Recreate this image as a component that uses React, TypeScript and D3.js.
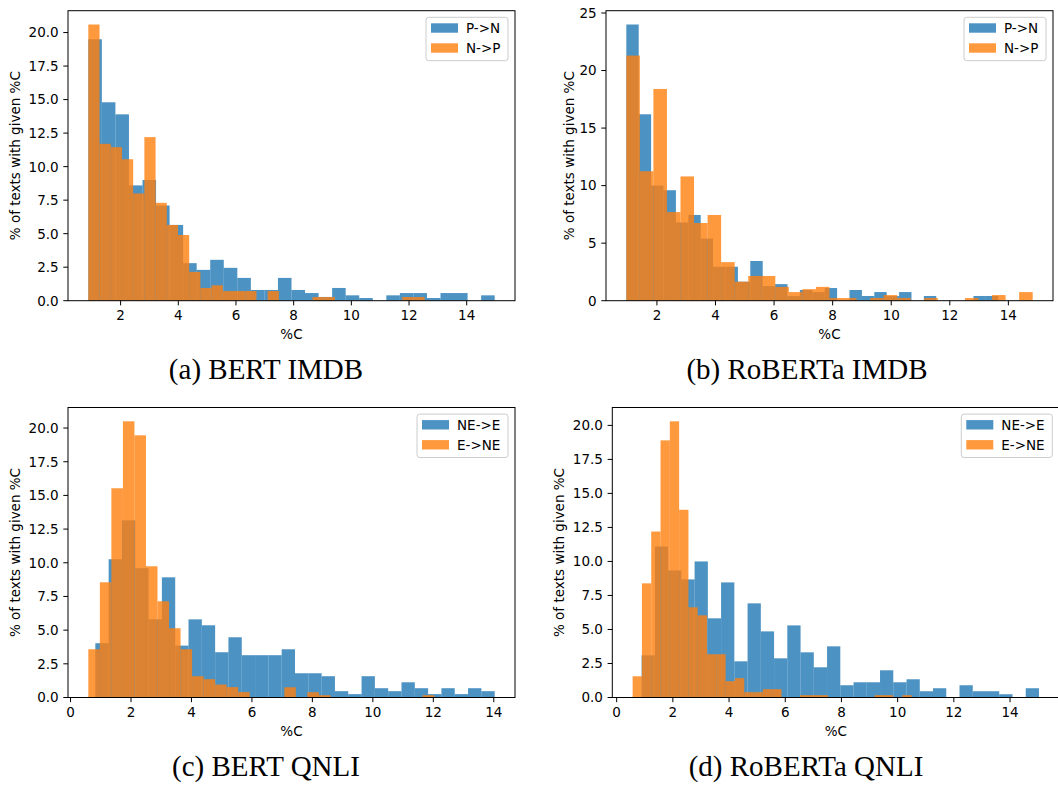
import React from "react";
import * as d3 from "d3";

// ---------- data ----------
// each histogram: 30 equal bins between [min, max] of %C, heights = % of texts
const BINS = 30;

// (a) BERT IMDB
const bertImdbPNRange = [0.88, 14.97];
const bertImdbPN = [19.5, 14.8, 13.9, 8.6, 9.0, 7.1, 5.65, 2.8, 2.3, 3.05, 2.45, 1.7, 0.8, 0.8, 1.7, 0.8, 0.57, 0.28, 0.95, 0.4, 0.2, 0, 0.4, 0.57, 0.57, 0.2, 0.57, 0.57, 0, 0.4];
const bertImdbNPRange = [0.88, 12.54];
const bertImdbNP = [20.6, 11.7, 11.45, 10.55, 8.0, 12.2, 7.3, 5.65, 4.9, 2.15, 0.95, 1.15, 0.72, 0.72, 0.72, 0, 0.72, 0, 0, 0, 0.27, 0.27, 0, 0, 0, 0, 0, 0, 0.27, 0.27];

// (b) RoBERTa IMDB
const robertaImdbPNRange = [0.955, 13.655];
const robertaImdbPN = [24.0, 16.2, 10.0, 9.6, 6.8, 7.45, 5.4, 2.95, 2.95, 1.65, 3.45, 1.27, 1.44, 0.4, 0.93, 0.75, 1.1, 0, 0.93, 0.41, 0.75, 0.4, 0.75, 0, 0.41, 0, 0, 0, 0.41, 0.41];
const robertaImdbNPRange = [0.955, 14.83];
const robertaImdbNP = [21.3, 11.25, 18.4, 7.7, 10.8, 6.75, 7.45, 3.35, 1.65, 2.15, 2.15, 1.2, 0.75, 1.0, 1.2, 0.23, 0.23, 0, 0.23, 0.49, 0.23, 0, 0.23, 0, 0, 0.23, 0, 0.49, 0, 0.75];

// (c) BERT QNLI
const bertQnliNEERange = [0.82, 14.03];
const bertQnliNEE = [4.03, 10.26, 13.15, 9.6, 5.8, 8.92, 3.85, 5.8, 5.36, 3.36, 4.47, 3.14, 3.14, 3.14, 3.58, 1.8, 1.8, 1.58, 0.47, 0.25, 1.58, 0.69, 0.47, 1.13, 0.69, 0.25, 0.69, 0.25, 0.69, 0.47];
const bertQnliENERange = [0.588, 12.03];
const bertQnliENE = [3.58, 8.55, 15.53, 20.5, 19.46, 9.74, 7.14, 5.14, 3.58, 1.58, 1.36, 0.96, 0.77, 0.4, 0, 0, 0, 0.76, 0, 0.39, 0.17, 0, 0, 0, 0, 0, 0, 0, 0, 0.17];

// (d) RoBERTa QNLI
const robertaQnliNEERange = [0.888, 15.03];
const robertaQnliNEE = [3.1, 11.1, 9.34, 8.68, 10.0, 5.82, 8.46, 2.66, 6.92, 4.86, 2.88, 5.3, 3.32, 2.22, 3.76, 0.9, 1.12, 1.12, 2.0, 1.12, 1.34, 0.46, 0.68, 0, 0.9, 0.46, 0.46, 0.24, 0, 0.68];
const robertaQnliENERange = [0.568, 10.5];
const robertaQnliENE = [1.56, 8.39, 12.2, 18.9, 20.3, 13.8, 6.63, 6.04, 3.18, 3.18, 1.2, 1.42, 0.39, 0.39, 0.61, 0.61, 0, 0, 0.17, 0.17, 0.17, 0, 0, 0, 0, 0, 0.17, 0.17, 0, 0.17];

const imdbLabels = ["P->N", "N->P"];
const qnliLabels = ["NE->E", "E->NE"];
const captions = ["(a) BERT IMDB", "(b) RoBERTa IMDB", "(c) BERT QNLI", "(d) RoBERTa QNLI"];
const xTicksImdb = [2, 4, 6, 8, 10, 12, 14];
const xTicksQnli = [0, 2, 4, 6, 8, 10, 12, 14];
const yTicks20 = [0, 2.5, 5, 7.5, 10, 12.5, 15, 17.5, 20];
const yTicks25 = [0, 5, 10, 15, 20, 25];

// ---------- styling ----------
const BLUE = "#1f77b4";
const ORANGE = "#ff7f0e";
const FONT = "DejaVu Sans";
const FS = 13.5;
const AX_W = 447;
const AX_H = 290;

type Series = { range: number[]; values: number[]; color: string; label: string };
type Panel = {
  left: number;
  top: number;
  series: Series[];
  xTicks: number[];
  yTicks: number[];
  yFmt: (v: number) => string;
  legendW: number;
  caption: string;
  capX: number;
  capY: number;
};

const f1 = d3.format(".1f");
const f0 = d3.format("d");

const panels: Panel[] = [
  {
    left: 68, top: 10.7,
    series: [
      { range: bertImdbPNRange, values: bertImdbPN, color: BLUE, label: imdbLabels[0] },
      { range: bertImdbNPRange, values: bertImdbNP, color: ORANGE, label: imdbLabels[1] },
    ],
    xTicks: xTicksImdb, yTicks: yTicks20, yFmt: f1, legendW: 82,
    caption: captions[0], capX: 266, capY: 379,
  },
  {
    left: 606, top: 10.7,
    series: [
      { range: robertaImdbPNRange, values: robertaImdbPN, color: BLUE, label: imdbLabels[0] },
      { range: robertaImdbNPRange, values: robertaImdbNP, color: ORANGE, label: imdbLabels[1] },
    ],
    xTicks: xTicksImdb, yTicks: yTicks25, yFmt: f0, legendW: 82,
    caption: captions[1], capX: 807, capY: 379,
  },
  {
    left: 68, top: 407.5,
    series: [
      { range: bertQnliNEERange, values: bertQnliNEE, color: BLUE, label: qnliLabels[0] },
      { range: bertQnliENERange, values: bertQnliENE, color: ORANGE, label: qnliLabels[1] },
    ],
    xTicks: xTicksQnli, yTicks: yTicks20, yFmt: f1, legendW: 91,
    caption: captions[2], capX: 266, capY: 776,
  },
  {
    left: 612.3, top: 407.5,
    series: [
      { range: robertaQnliNEERange, values: robertaQnliNEE, color: BLUE, label: qnliLabels[0] },
      { range: robertaQnliENERange, values: robertaQnliENE, color: ORANGE, label: qnliLabels[1] },
    ],
    xTicks: xTicksQnli, yTicks: yTicks20, yFmt: f1, legendW: 91,
    caption: captions[3], capX: 806, capY: 776,
  },
];

function PanelView({ p }: { p: Panel }) {
  const dmin = d3.min(p.series, (s) => s.range[0]) as number;
  const dmax = d3.max(p.series, (s) => s.range[1]) as number;
  const pad = (dmax - dmin) * 0.05;
  const x = d3.scaleLinear().domain([dmin - pad, dmax + pad]).range([0, AX_W]);
  const vmax = d3.max(p.series, (s) => d3.max(s.values) as number) as number;
  const y = d3.scaleLinear().domain([0, vmax * 1.05]).range([AX_H, 0]);
  const tickLen = 4.7;
  const labelW = d3.max(p.yTicks, (t) => p.yFmt(t).length) as number;
  const digitW = FS * 0.62;
  const yLabelX = -(tickLen + 4.7 + labelW * digitW + 5.5);
  const clipId = `clip-${p.left}-${p.top}`;

  return (
    <g transform={`translate(${p.left},${p.top})`}>
      <defs>
        <clipPath id={clipId}>
          <rect x={0} y={0} width={AX_W} height={AX_H} />
        </clipPath>
      </defs>
      <g clipPath={`url(#${clipId})`}>
        {p.series.map((s, si) => {
          const w = (s.range[1] - s.range[0]) / BINS;
          return (
            <g key={si} fill={s.color} fillOpacity={0.8}>
              {s.values.map((v, i) => {
                if (v <= 0) return null;
                const x0 = x(s.range[0] + i * w);
                const x1 = x(s.range[0] + (i + 1) * w);
                return <rect key={i} x={x0} y={y(v)} width={x1 - x0} height={AX_H - y(v)} />;
              })}
            </g>
          );
        })}
      </g>
      {/* spines */}
      <rect x={0} y={0} width={AX_W} height={AX_H} fill="none" stroke="#000" strokeWidth={1} />
      {/* y ticks */}
      {p.yTicks.map((t) => (
        <g key={"y" + t} transform={`translate(0,${y(t)})`}>
          <line x1={-tickLen} x2={0} stroke="#000" strokeWidth={1} />
          <text x={-tickLen - 4.7} dy="0.36em" textAnchor="end" fontFamily={FONT} fontSize={FS} fill="#000">
            {p.yFmt(t)}
          </text>
        </g>
      ))}
      {/* x ticks */}
      {p.xTicks.map((t) => (
        <g key={"x" + t} transform={`translate(${x(t)},${AX_H})`}>
          <line y1={0} y2={tickLen} stroke="#000" strokeWidth={1} />
          <text y={tickLen + 4.7 + 10.2} textAnchor="middle" fontFamily={FONT} fontSize={FS} fill="#000">
            {t}
          </text>
        </g>
      ))}
      <text x={AX_W / 2} y={AX_H + 38} textAnchor="middle" fontFamily={FONT} fontSize={FS} fill="#000">
        %C
      </text>
      <text
        transform={`translate(${yLabelX},${AX_H / 2}) rotate(-90)`}
        textAnchor="middle"
        fontFamily={FONT}
        fontSize={FS}
        fill="#000"
      >
        % of texts with given %C
      </text>
      {/* legend */}
      <g transform={`translate(${AX_W - 7 - p.legendW},6.6)`}>
        <rect x={0} y={0} width={p.legendW} height={43.4} rx={2.7} fill="#fff" fillOpacity={0.8} stroke="#cccccc" strokeWidth={1} />
        {p.series.map((s, i) => (
          <g key={i} transform={`translate(0,${10.7 + i * 20})`}>
            <rect x={5} y={-4.7} width={27} height={9.4} fill={s.color} fillOpacity={0.8} />
            <text x={40} dy="0.36em" fontFamily={FONT} fontSize={FS} fill="#000">
              {s.label}
            </text>
          </g>
        ))}
      </g>
    </g>
  );
}

export default function App() {
  return (
    <svg
      width={1058}
      height={791}
      viewBox="0 0 1058 791"
      style={{ position: "absolute", left: 0, top: 0, background: "#fff" }}
    >
      <rect x={0} y={0} width={1058} height={791} fill="#fff" />
      {panels.map((p, i) => (
        <PanelView key={i} p={p} />
      ))}
      {panels.map((p, i) => (
        <text
          key={"c" + i}
          x={p.capX}
          y={p.capY}
          textAnchor="middle"
          fontFamily="Liberation Serif, Times New Roman, serif"
          fontSize={29}
          fill="#000"
        >
          {p.caption}
        </text>
      ))}
    </svg>
  );
}
